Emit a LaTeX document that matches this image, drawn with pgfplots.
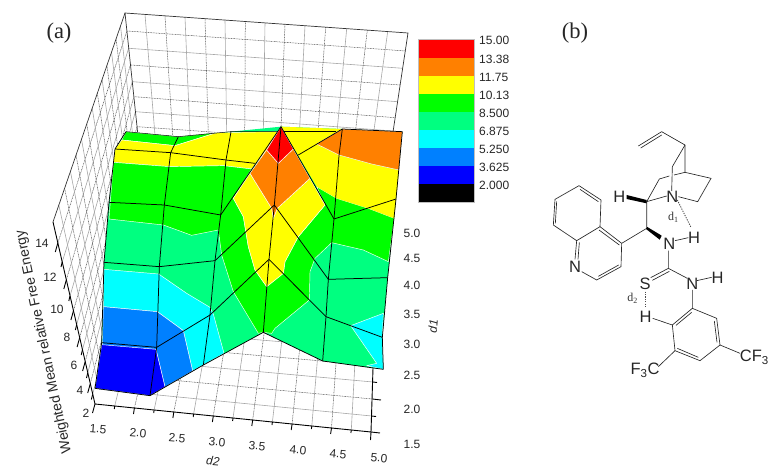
\documentclass[border=0pt]{standalone}
\usepackage{pgfplots}
\pgfplotsset{compat=1.18}
\usepackage{fontspec}
\setmainfont{Liberation Sans}
\newfontfamily\timesf{Liberation Serif}
\definecolor{cRed}{HTML}{FF0000}
\definecolor{cOrange}{HTML}{FF8000}
\definecolor{cYellow}{HTML}{FFFF00}
\definecolor{cGreen}{HTML}{00FF00}
\definecolor{cSpring}{HTML}{00FF80}
\definecolor{cCyan}{HTML}{00FFFF}
\definecolor{cAzure}{HTML}{0080FF}
\definecolor{cBlue}{HTML}{0000FF}
\tikzset{
  maj/.style={black!70,line width=.5pt,dash pattern=on .9pt off .7pt},
  mnr/.style={black!35,line width=.6pt},
  frm/.style={black!80,line width=.7pt},
  axl/.style={black,line width=.9pt},
  band/.style={draw=white,line width=.45pt,line join=round},
  mline/.style={black,line width=.75pt,line join=round},
  bond/.style={black!85,line width=.65pt},
  lab/.style={font=\fontsize{12}{14}\selectfont,text=black!85,inner sep=0pt},
  atom/.style={font=\fontsize{16.5}{18}\selectfont,text=black!85,inner sep=0pt},
}
\pgfplotsset{canvas/.style={scale only axis,width=769pt,height=468pt,at={(0,0)},anchor=south west,
  axis lines=none,y dir=reverse,clip=false,no markers}}
\begin{document}
\begin{tikzpicture}
\path[use as bounding box,clip] (0,0) rectangle (769pt,468pt);
% ---------- walls, floor, ticks, colour bar (pixel units)
\begin{axis}[canvas,xmin=0,xmax=769,ymin=0,ymax=468]
% back wall: constant z
\addplot[maj] coordinates {(127.3,31)(405.7,51)};
\addplot[mnr] coordinates {(129,48.3)(402.7,68.3)};
\addplot[maj] coordinates {(131,65)(400,85)};
\addplot[mnr] coordinates {(132.7,81.7)(397.7,101.7)};
\addplot[maj] coordinates {(134.7,96.7)(395,117.7)};
\addplot[mnr] coordinates {(135.7,111.7)(393.3,131)};
\addplot[maj] coordinates {(137.3,126.7)(391.7,145)};
% back wall: constant d2
\addplot[mnr] coordinates {(145,14.4)(155,135)};
\addplot[maj] coordinates {(165,16.1)(172.7,135)};
\addplot[mnr] coordinates {(185,17.2)(190,135)};
\addplot[maj] coordinates {(205,18.7)(208.3,135)};
\addplot[mnr] coordinates {(225,20.1)(226.7,135)};
\addplot[maj] coordinates {(245.3,21.5)(244.7,135)};
\addplot[mnr] coordinates {(265,22.9)(263.3,135)};
\addplot[maj] coordinates {(285,24.3)(280.7,135)};
\addplot[mnr] coordinates {(305,25.7)(299.3,135)};
\addplot[maj] coordinates {(325.7,27.2)(317.7,135)};
\addplot[mnr] coordinates {(346.7,28.7)(336.7,135)};
\addplot[maj] coordinates {(367.3,30.1)(355,135)};
\addplot[mnr] coordinates {(387.7,31.6)(373.3,135)};
% left wall: constant z
\addplot[maj] coordinates {(57.8,243)(126.9,31)};
\addplot[mnr] coordinates {(62.2,262)(128.7,48)};
\addplot[maj] coordinates {(66.3,280)(130.4,65)};
\addplot[mnr] coordinates {(70,296)(132.2,82)};
\addplot[maj] coordinates {(73.4,311)(133.8,97)};
\addplot[mnr] coordinates {(76.6,325)(135.3,112)};
\addplot[maj] coordinates {(79.6,338)(136.9,127)};
\addplot[mnr] coordinates {(82.4,350)(138.4,141)};
\addplot[maj] coordinates {(85.1,362)(139.8,155)};
\addplot[mnr] coordinates {(87.7,373)(141.3,169)};
\addplot[maj] coordinates {(90.2,384)(142.7,183)};
\addplot[mnr] coordinates {(92.6,394.5)(144.2,197)};
% left wall: constant d1
\addplot[mnr] coordinates {(58.8,205)(99.1,389.2)};
\addplot[maj] coordinates {(64.6,188.4)(103.1,373.6)};
\addplot[mnr] coordinates {(70.4,171.4)(107.2,357.8)};
\addplot[maj] coordinates {(76,155.1)(111.2,342.6)};
\addplot[mnr] coordinates {(81.5,139.2)(115,327.8)};
\addplot[maj] coordinates {(86.8,124)(118.7,313.5)};
\addplot[mnr] coordinates {(92.2,108.1)(122.5,298.7)};
\addplot[maj] coordinates {(97.4,93.3)(126.1,284.9)};
\addplot[mnr] coordinates {(102.1,79.5)(129.4,272)};
\addplot[maj] coordinates {(106.9,65.5)(132.8,259)};
\addplot[mnr] coordinates {(111.5,52.1)(136.1,246.5)};
\addplot[maj] coordinates {(116.1,38.7)(139.3,234)};
\addplot[mnr] coordinates {(120.5,26)(142.4,222)};
% floor: constant d1
\addplot[mnr] coordinates {(99.1,389.2)(371.6,416)};
\addplot[maj] coordinates {(103.1,373.6)(372.3,399)};
\addplot[mnr] coordinates {(107.2,357.8)(372.9,382)};
\addplot[maj] coordinates {(111.2,342.6)(373.5,365.5)};
\addplot[mnr] coordinates {(115,327.8)(374.1,349.5)};
\addplot[maj] coordinates {(118.7,313.5)(374.7,334)};
% floor: constant d2
\addplot[mnr] coordinates {(114.7,406)(162.2,213)};
\addplot[maj] coordinates {(134.4,408)(178.9,214)};
\addplot[mnr] coordinates {(154.1,410)(195.6,215)};
\addplot[maj] coordinates {(173.8,412)(212.3,216)};
\addplot[mnr] coordinates {(193.6,414)(229,217)};
\addplot[maj] coordinates {(213.3,416)(245.7,218)};
\addplot[mnr] coordinates {(233,418)(262.4,218)};
\addplot[maj] coordinates {(252.7,420)(279.1,219)};
\addplot[mnr] coordinates {(272.4,422)(295.8,220)};
\addplot[maj] coordinates {(292.1,424)(312.5,220)};
\addplot[mnr] coordinates {(311.8,426)(329.2,221)};
\addplot[maj] coordinates {(331.5,428)(345.9,221)};
\addplot[mnr] coordinates {(351.3,430)(362.6,222)};
% frame
\addplot[frm] coordinates {(137.6,132)(125,13)(408,33)(393,132)};
\addplot[frm] coordinates {(125,13)(53,222)};
\addplot[axl] coordinates {(53,222)(95,404)(371,432)(373,368)};
% z ticks
\addplot[axl] coordinates {(57.8,243)(55.3,252)};
\addplot[axl] coordinates {(62.2,262)(61,267)};
\addplot[axl] coordinates {(66.3,280)(63.8,289)};
\addplot[axl] coordinates {(70,296)(68.8,301)};
\addplot[axl] coordinates {(73.4,311)(70.9,320)};
\addplot[axl] coordinates {(76.6,325)(75.4,330)};
\addplot[axl] coordinates {(79.6,338)(77.1,347)};
\addplot[axl] coordinates {(82.4,350)(81.2,355)};
\addplot[axl] coordinates {(85.1,362)(82.6,371)};
\addplot[axl] coordinates {(87.7,373)(86.5,378)};
\addplot[axl] coordinates {(90.2,384)(87.7,393)};
\addplot[axl] coordinates {(92.6,394.5)(91.4,399.5)};
\addplot[axl] coordinates {(95,404)(92.5,413)};
% d2 ticks
\addplot[axl] coordinates {(134.4,408)(133.5,414)};
\addplot[axl] coordinates {(114.7,406)(114.3,409)};
\addplot[axl] coordinates {(154.1,410)(153.7,413)};
\addplot[axl] coordinates {(173.8,412)(172.9,418)};
\addplot[axl] coordinates {(193.6,414)(193.2,417)};
\addplot[axl] coordinates {(213.3,416)(212.4,422)};
\addplot[axl] coordinates {(233,418)(232.6,421)};
\addplot[axl] coordinates {(252.7,420)(251.8,426)};
\addplot[axl] coordinates {(272.4,422)(272,425)};
\addplot[axl] coordinates {(292.1,424)(291.2,430)};
\addplot[axl] coordinates {(311.8,426)(311.4,429)};
\addplot[axl] coordinates {(331.5,428)(330.6,434)};
\addplot[axl] coordinates {(351.3,430)(350.9,433)};
\addplot[axl] coordinates {(371,432)(370.5,440)};
% d1 ticks
\addplot[axl] coordinates {(371,432)(380,433)};
\addplot[axl] coordinates {(371.6,416)(376,416.5)};
\addplot[axl] coordinates {(372.3,399)(381,400)};
\addplot[axl] coordinates {(372.9,382)(377,382.5)};
% colour bar
\addplot[fill=cRed,draw=none] coordinates {(418,39.3)(474,39.3)(474,58)(418,58)} --cycle;
\addplot[fill=cOrange,draw=none] coordinates {(418,58)(474,58)(474,76)(418,76)} --cycle;
\addplot[fill=cYellow,draw=none] coordinates {(418,76)(474,76)(474,94)(418,94)} --cycle;
\addplot[fill=cGreen,draw=none] coordinates {(418,94)(474,94)(474,112)(418,112)} --cycle;
\addplot[fill=cSpring,draw=none] coordinates {(418,112)(474,112)(474,130)(418,130)} --cycle;
\addplot[fill=cCyan,draw=none] coordinates {(418,130)(474,130)(474,148)(418,148)} --cycle;
\addplot[fill=cAzure,draw=none] coordinates {(418,148)(474,148)(474,166)(418,166)} --cycle;
\addplot[fill=cBlue,draw=none] coordinates {(418,166)(474,166)(474,184)(418,184)} --cycle;
\addplot[fill=black,draw=none] coordinates {(418,184)(474,184)(474,202)(418,202)} --cycle;
\addplot[black!25,line width=.4pt] coordinates {(418,39.3)(474,39.3)(474,202)(418,202)} --cycle;
% texts
\node[lab,anchor=west] at (axis cs:479,40.7) {15.00};
\node[lab,anchor=west] at (axis cs:479,59) {13.38};
\node[lab,anchor=west] at (axis cs:479,77) {11.75};
\node[lab,anchor=west] at (axis cs:479,95) {10.13};
\node[lab,anchor=west] at (axis cs:479,113) {8.500};
\node[lab,anchor=west] at (axis cs:479,131) {6.875};
\node[lab,anchor=west] at (axis cs:479,149) {5.250};
\node[lab,anchor=west] at (axis cs:479,167) {3.625};
\node[lab,anchor=west] at (axis cs:479,185) {2.000};
\node[lab] at (axis cs:42,243) {14};
\node[lab] at (axis cs:50,277) {12};
\node[lab] at (axis cs:57,309) {10};
\node[lab] at (axis cs:67,337) {8};
\node[lab] at (axis cs:74,365) {6};
\node[lab] at (axis cs:80,390) {4};
\node[lab] at (axis cs:86,413) {2};
\node[lab,rotate=-5] at (axis cs:98,429) {1.5};
\node[lab,rotate=-5] at (axis cs:138,433) {2.0};
\node[lab,rotate=-5] at (axis cs:177,438) {2.5};
\node[lab,rotate=-5] at (axis cs:217,442) {3.0};
\node[lab,rotate=-5] at (axis cs:257,446) {3.5};
\node[lab,rotate=-5] at (axis cs:298,450) {4.0};
\node[lab,rotate=-5] at (axis cs:338,454) {4.5};
\node[lab,rotate=-5] at (axis cs:379,458) {5.0};
\node[lab] at (axis cs:412,233) {5.0};
\node[lab] at (axis cs:412,258) {4.5};
\node[lab] at (axis cs:412,285) {4.0};
\node[lab] at (axis cs:412,314) {3.5};
\node[lab] at (axis cs:412,344) {3.0};
\node[lab] at (axis cs:412,375) {2.5};
\node[lab] at (axis cs:412,409) {2.0};
\node[lab] at (axis cs:412,444) {1.5};
\node[lab,rotate=-5] at (axis cs:213,461) {\itshape d2};
\node[lab,rotate=85] at (axis cs:433,326) {\itshape d1};
\node[lab,rotate=102,font=\fontsize{14}{15}\selectfont] at (axis cs:44,342) {Weighted Mean relative Free Energy};
\node[font=\timesf\fontsize{22.5}{24}\selectfont,text=black!85,inner sep=0pt] at (axis cs:59,33) {(a)};
\node[font=\timesf\fontsize{22.5}{24}\selectfont,text=black!85,inner sep=0pt] at (axis cs:575,33) {(b)};
\end{axis}
% ---------- surface (units: 1/3 pixel)
\begin{axis}[canvas,xmin=0,xmax=2307,ymin=0,ymax=1404]
\addplot[fill=cSpring,draw=none] coordinates {(345,447)(378,395)(535,410)(693,395)(843,380)(1027,387)(1207,395)(1188,597)(1163,833)(1147,1012)(1150,1108)(968,1083)(790,997)(610,1095)(450,1187)(285,1165)(305,1028)(312,787)(327,607)} --cycle;
\addplot[fill=cGreen,band] coordinates {(378,395)(535,410)(650,398)(525,437)(365,420)} --cycle;
\addplot[fill=cYellow,band] coordinates {(345,447)(365,420)(525,437)(650,398)(832,395)(800,450)(755,507)(670,497)(510,500)(340,487)} --cycle;
\addplot[fill=cGreen,band] coordinates {(340,487)(510,500)(670,497)(755,507)(700,595)(730,650)(745,740)(765,810)(800,860)(850,820)(855,785)(895,710)(975,615)(950,560)(1010,595)(1105,625)(1183,655)(1165,785)(1090,750)(995,728)(945,775)(930,815)(928,900)(825,985)(815,1000)(790,997)(775,1000)(700,875)(665,765)(655,690)(575,706)(490,675)(327,657)} --cycle;
\addplot[fill=cCyan,band] coordinates {(312,808)(476,822)(560,880)(630,922)(640,942)(672,1060)(610,1095)(578,1113)(550,992)(472,935)(310,920)} --cycle;
\addplot[fill=cAzure,band] coordinates {(310,920)(472,935)(550,992)(578,1113)(495,1161)(468,1048)(307,1038)} --cycle;
\addplot[fill=cBlue,band] coordinates {(305,1034)(468,1048)(495,1161)(450,1187)(285,1165)} --cycle;
\addplot[fill=cCyan,band] coordinates {(1052,977)(1150,940)(1147,1012)(1150,1108)(1100,1097)(1130,1090)} --cycle;
\addplot[fill=cYellow,draw=none] coordinates {(843,380)(1027,387)(950,432)(1017,465)(1115,492)(1197,510)(1183,655)(1105,625)(1010,595)(950,560)} --cycle;
\addplot[fill=cOrange,band] coordinates {(950,432)(1027,387)(1207,395)(1197,510)(1115,492)(1017,465)} --cycle;
\addplot[fill=cYellow,band] coordinates {(700,595)(750,520)(815,625)(820,655)(832,625)(930,535)(975,615)(895,710)(855,785)(850,820)(800,860)(765,810)(745,740)(730,650)} --cycle;
\addplot[fill=cOrange,band] coordinates {(800,450)(835,490)(880,447)(930,535)(832,625)(820,655)(815,625)(750,520)} --cycle;
\addplot[fill=cRed,band] coordinates {(843,380)(880,447)(835,490)(800,450)} --cycle;
% mesh
\addplot[mline] coordinates {(378,395)(345,447)(327,607)(312,787)(305,1028)(285,1165)};
\addplot[mline] coordinates {(535,410)(512,458)(493,615)(478,800)(470,1042)(450,1187)};
\addplot[mline] coordinates {(693,395)(678,480)(662,645)(645,782)(630,945)(610,1095)};
\addplot[mline] coordinates {(843,380)(823,615)(807,778)(790,997)};
\addplot[mline] coordinates {(1027,387)(1017,467)(1002,657)(985,838)(978,950)(968,1083)};
\addplot[mline] coordinates {(1207,395)(1188,597)(1163,833)(1147,1012)(1150,1108)};
\addplot[mline] coordinates {(285,1165)(450,1187)(610,1095)(790,997)(968,1083)(1150,1108)};
\addplot[mline] coordinates {(305,1028)(470,1042)(630,945)(807,778)(978,950)(1147,1012)};
\addplot[mline] coordinates {(312,787)(478,800)(645,782)(823,615)(985,838)(1163,833)};
\addplot[mline] coordinates {(327,607)(493,615)(662,645)(843,380)(1002,657)(1188,597)};
\addplot[mline] coordinates {(345,447)(512,458)(678,480)(765,490)};
\addplot[mline] coordinates {(895,465)(1027,387)(1207,395)};
\addplot[mline,line width=.5pt] coordinates {(378,395)(535,410)(693,395)(832,395)};
\addplot[mline,line width=.5pt] coordinates {(852,395)(1008,395)};
\end{axis}
% ---------- molecule (units: 1/3 pixel, origin at 530,10)
\begin{axis}[canvas,xmin=-1590,xmax=717,ymin=-30,ymax=1374]
\addplot[bond] coordinates {(325,408)(395,365)(465,405)(465,487)(543,505)(503,575)(445,560)};
\addplot[bond] coordinates {(332,414)(395,375)};
\addplot[bond] coordinates {(465,405)(427,470)(425,543)};
\addplot[bond] coordinates {(465,487)(432,495)};
\addplot[bond] coordinates {(418,498)(388,507)(350,575)(410,558)};
\addplot[bond] coordinates {(350,575)(350,655)(275,700)(273,770)(200,810)(155,785)};
\addplot[fill=black,draw=none] coordinates {(350,570)(350,580)(290,567)(290,555)} --cycle;
\addplot[fill=black,draw=none] coordinates {(348,657)(352,651)(395,677)(389,689)} --cycle;
\addplot[bond] coordinates {(147,527)(213,570)(210,650)(140,692)(70,645)(75,568)(147,527)};
\addplot[bond] coordinates {(150,538)(205,575)};
\addplot[bond] coordinates {(80,574)(76,640)};
\addplot[bond] coordinates {(210,650)(275,700)};
\addplot[bond] coordinates {(207,660)(268,705)};
\addplot[bond] coordinates {(266,765)(205,799)};
\addplot[bond] coordinates {(140,692)(135,748)};
\addplot[bond] coordinates {(148,697)(144,748)};
\addplot[bond] coordinates {(435,692)(475,683)};
\addplot[bond] coordinates {(415,722)(415,775)(472,805)};
\addplot[bond] coordinates {(415,775)(362,803)};
\addplot[bond] coordinates {(418,784)(367,811)};
\addplot[bond] coordinates {(500,812)(545,802)};
\addplot[bond] coordinates {(487,840)(487,895)(560,925)(570,1005)(510,1052)(435,1022)(427,945)(487,895)};
\addplot[bond] coordinates {(485,907)(438,946)};
\addplot[bond] coordinates {(553,933)(561,997)};
\addplot[bond] coordinates {(505,1042)(442,1015)};
\addplot[bond] coordinates {(427,945)(368,925)};
\addplot[bond] coordinates {(570,1005)(630,1030)};
\addplot[bond] coordinates {(435,1022)(385,1070)};
\addplot[black!70,line width=.9pt,dash pattern=on 1.2pt off 1.2pt] coordinates {(345,845)(345,895)};
\addplot[black!70,line width=.9pt,dash pattern=on 1.2pt off 1.2pt] coordinates {(442,570)(483,652)};
\node[atom] at (axis cs:268,560) {H};
\node[atom] at (axis cs:427,560) {N};
\node[atom] at (axis cs:418,702) {N};
\node[atom] at (axis cs:492,682) {H};
\node[atom] at (axis cs:487,822) {N};
\node[atom] at (axis cs:563,803) {H};
\node[atom] at (axis cs:345,822) {S};
\node[atom] at (axis cs:347,920) {H};
\node[atom] at (axis cs:135,770) {N};
\node[atom] at (axis cs:673,1042) {CF\textsubscript{3}};
\node[atom] at (axis cs:345,1080) {F\textsubscript{3}C};
\node[font=\timesf\fontsize{12}{12}\selectfont,text=black!80,inner sep=0pt] at (axis cs:430,622) {d\textsubscript{1}};
\node[font=\timesf\fontsize{12}{12}\selectfont,text=black!80,inner sep=0pt] at (axis cs:308,865) {d\textsubscript{2}};
\end{axis}
\end{tikzpicture}
\end{document}
